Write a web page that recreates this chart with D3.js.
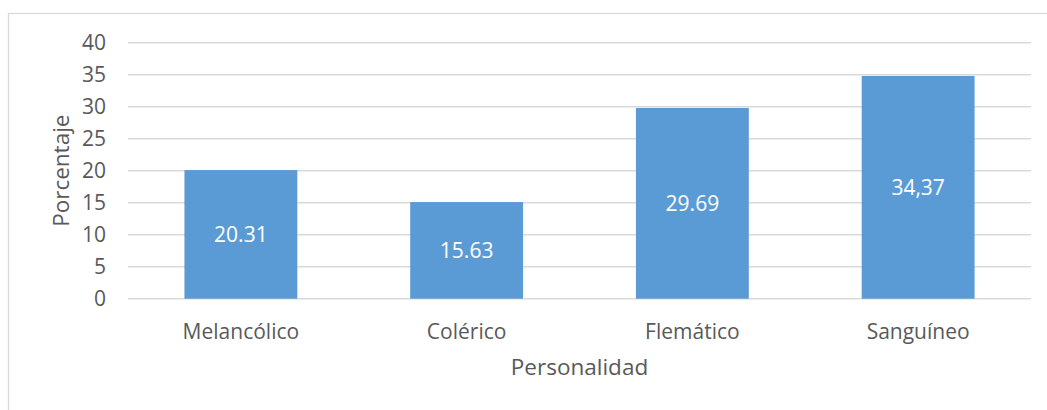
<!DOCTYPE html>
<html>
<head>
<meta charset="utf-8">
<script src="https://cdn.jsdelivr.net/npm/d3@7"></script>
<style>
  html, body { margin: 0; padding: 0; background: #fff; }
  svg { display: block; }
  text { font-family: "Open Sans", "Noto Sans", sans-serif; fill: #595959; }
</style>
</head>
<body>
<script>
const categories = ["Melancólico", "Colérico", "Flemático", "Sanguíneo"];
const values = [20.1, 15.1, 29.8, 34.8];
const valueLabels = ["20.31", "15.63", "29.69", "34,37"];
const yTicks = [0, 5, 10, 15, 20, 25, 30, 35, 40];
const xTitle = "Personalidad";
const yTitle = "Porcentaje";

const W = 1047, H = 410;
const plot = { left: 128, right: 1031, top: 42.7, bottom: 298.7 };

const svg = d3.select("body").append("svg").attr("width", W).attr("height", H);

// chart border (cropped at right and bottom)
svg.append("rect")
  .attr("x", 8.5).attr("y", 13.5)
  .attr("width", 1100).attr("height", 600)
  .attr("fill", "none").attr("stroke", "#d9d9d9").attr("stroke-width", 1.3);

const x = d3.scaleBand().domain(categories).range([plot.left, plot.right]).paddingInner(0.5).paddingOuter(0.25);
const y = d3.scaleLinear().domain([0, 40]).range([plot.bottom, plot.top]);

// gridlines
svg.append("g").selectAll("line").data(yTicks).join("line")
  .attr("x1", plot.left).attr("x2", plot.right)
  .attr("y1", d => y(d)).attr("y2", d => y(d))
  .attr("stroke", "#d9d9d9").attr("stroke-width", 1.4);

// y tick labels
svg.append("g").selectAll("text").data(yTicks).join("text")
  .attr("x", 106).attr("y", d => y(d)).attr("dy", "0.36em")
  .attr("text-anchor", "end").attr("font-size", 21)
  .text(d => d);

// bars
svg.append("g").selectAll("rect").data(values).join("rect")
  .attr("x", (d, i) => x(categories[i]))
  .attr("width", x.bandwidth())
  .attr("y", d => y(d))
  .attr("height", d => y(0) - y(d))
  .attr("fill", "#5b9bd5");

// value labels
svg.append("g").selectAll("text").data(values).join("text")
  .attr("x", (d, i) => x(categories[i]) + x.bandwidth() / 2)
  .attr("y", d => (y(d) + y(0)) / 2).attr("dy", "0.36em")
  .attr("text-anchor", "middle").attr("font-size", 21)
  .style("fill", "#ffffff")
  .text((d, i) => valueLabels[i]);

// category labels
svg.append("g").selectAll("text").data(categories).join("text")
  .attr("x", d => x(d) + x.bandwidth() / 2)
  .attr("y", 339)
  .attr("text-anchor", "middle").attr("font-size", 21)
  .text(d => d);

// axis titles
svg.append("text")
  .attr("x", (plot.left + plot.right) / 2).attr("y", 375)
  .attr("text-anchor", "middle").attr("font-size", 22.5)
  .text(xTitle);

svg.append("text")
  .attr("transform", `translate(69, ${(plot.top + plot.bottom) / 2}) rotate(-90)`)
  .attr("text-anchor", "middle").attr("font-size", 22.5)
  .text(yTitle);
</script>
</body>
</html>
